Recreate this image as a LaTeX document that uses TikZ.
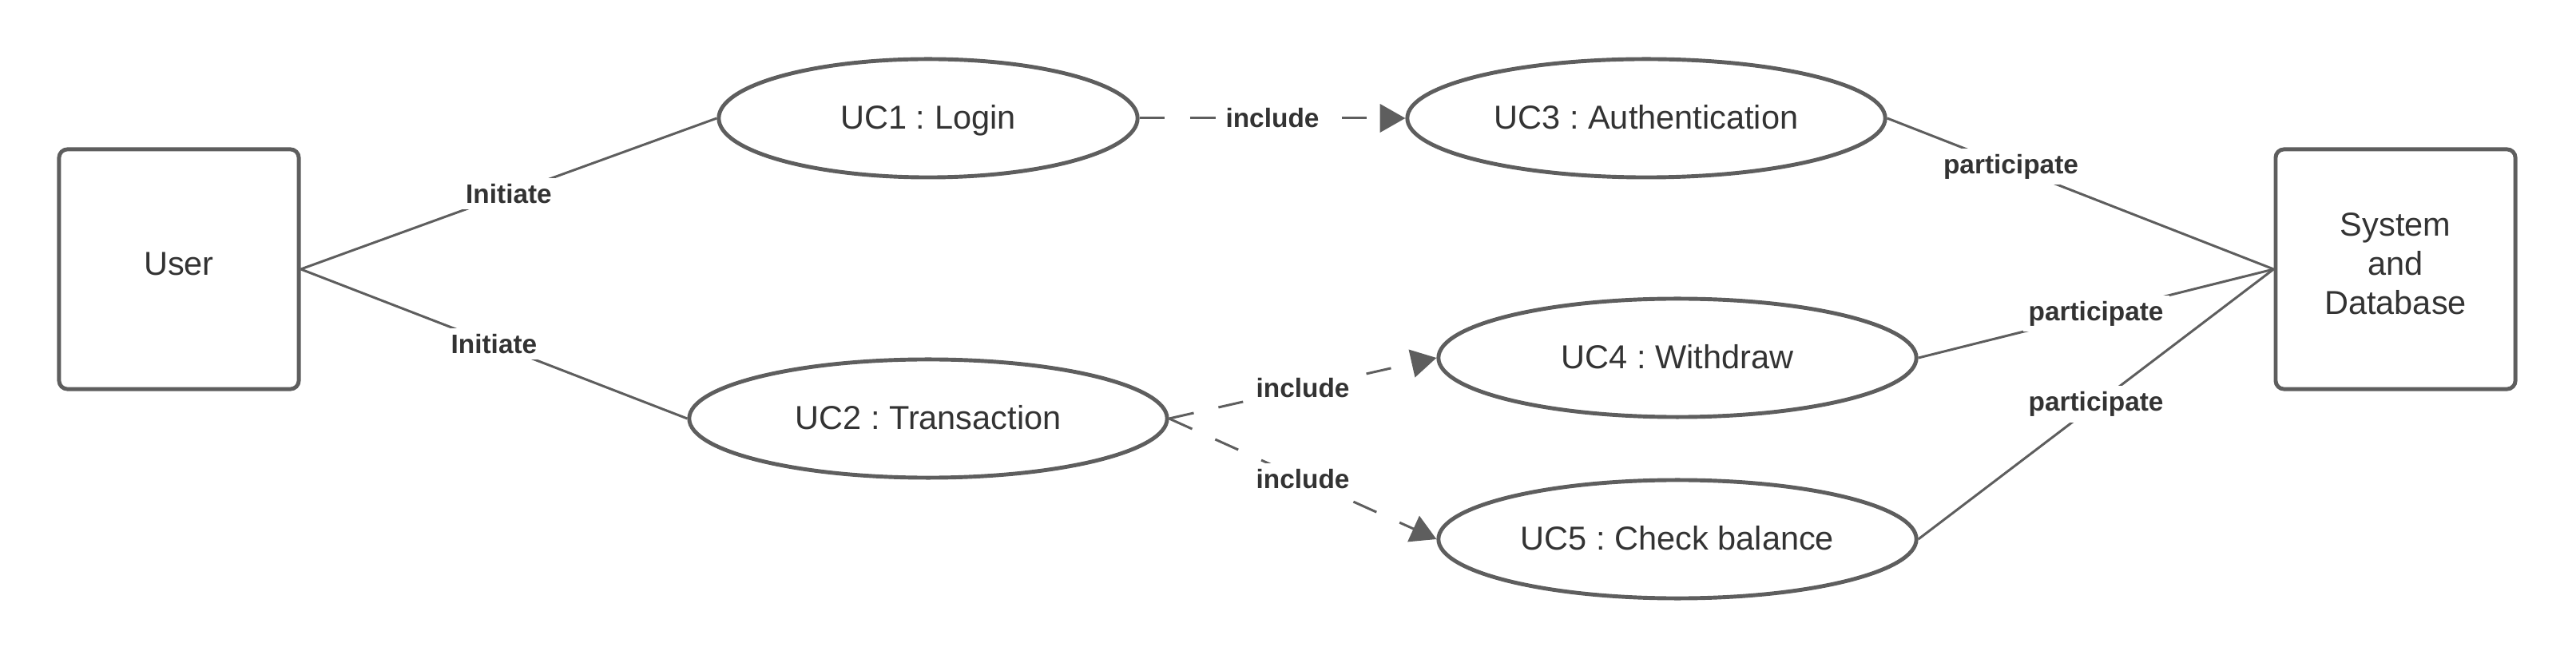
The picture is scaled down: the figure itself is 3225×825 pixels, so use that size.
\documentclass[tikz,border=0pt]{standalone}
\usepackage{fontspec}
\setmainfont{Liberation Sans}
\usetikzlibrary{shapes.geometric,arrows.meta}
\definecolor{linegray}{HTML}{5E5E5E}
\definecolor{textgray}{HTML}{333333}
\frenchspacing
\tikzset{
  actor/.style={draw=linegray,line width=1.4pt,rounded corners=3pt,minimum width=3cm,minimum height=3cm,
    text=textgray,align=center,text depth=4pt,font=\fontsize{11.8pt}{14pt}\selectfont},
  usecase/.style={ellipse,draw=linegray,line width=1.4pt,minimum width=5.98cm,minimum height=1.48cm,
    inner sep=0pt,text=textgray,text depth=1pt,font=\fontsize{11.8pt}{14pt}\selectfont},
  link/.style={draw=linegray,line width=0.85pt},
  incl/.style={link,dash pattern=on 9pt off 9pt,-{Triangle[length=9pt,width=10pt]}},
  lbl/.style={fill=white,inner sep=2pt,text=textgray,font=\bfseries\fontsize{9.5pt}{11pt}\selectfont}
}
\begin{document}
\begin{tikzpicture}[x=0.01cm,y=-0.01cm]
\useasboundingbox (0,0) rectangle (3225,825);
% actors
\node [actor] (user) at (224,337) {User};
\node [actor] (sys) at (2999,337) {System\\and\\Database};
% use cases
\node [usecase,minimum width=5.24cm] (uc1) at (1162,148) {UC1 : Login};
\node [usecase] (uc2) at (1162,524) {UC2 : Transaction};
\node [usecase] (uc3) at (2061,148) {UC3 : Authentication};
\node [usecase] (uc4) at (2100,448) {UC4 : Withdraw};
\node [usecase] (uc5) at (2100,675) {UC5 : Check balance};
% connectors
\draw [link] (user.east) -- node[lbl]{Initiate} (uc1.west);
\draw [link] (user.east) -- node[lbl]{Initiate} (uc2.west);
\draw [incl] (uc1.east) -- node[lbl]{include} (uc3.west);
\draw [incl] (uc2.east) -- node[lbl]{include} (uc4.west);
\draw [incl] (uc2.east) -- node[lbl]{include} (uc5.west);
\draw [link] (uc3.east) -- node[lbl,pos=0.32]{participate} (sys.west);
\draw [link] (uc4.east) -- node[lbl]{participate} (sys.west);
\draw [link] (uc5.east) -- node[lbl]{participate} (sys.west);
\end{tikzpicture}
\end{document}
